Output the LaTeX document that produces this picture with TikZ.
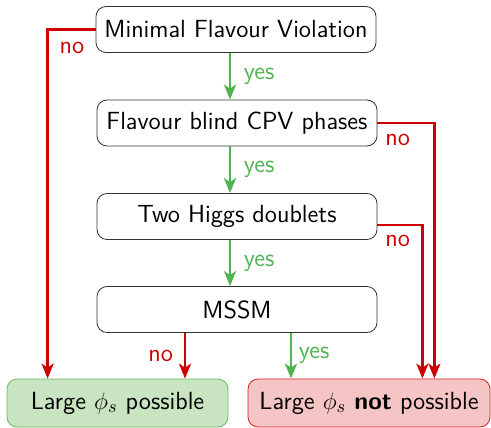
\documentclass[tikz,border=0pt]{standalone}
\usetikzlibrary{arrows.meta}

\definecolor{yesgreen}{RGB}{80,178,80}
\definecolor{nored}{RGB}{204,0,0}
\definecolor{goodfill}{RGB}{200,228,192}
\definecolor{goodline}{RGB}{110,185,100}
\definecolor{badfill}{RGB}{245,196,196}
\definecolor{badline}{RGB}{220,30,30}

\begin{document}
\begin{tikzpicture}[x=0.5pt,y=-0.5pt,
    box/.style={draw=black!80, rounded corners=5pt, minimum width=140pt,
        minimum height=23pt, inner sep=0pt,
        font=\sffamily\fontsize{12.4}{14}\selectfont},
    result/.style={box, minimum height=24pt},
    yes/.style={yesgreen, line width=1.3pt, -{Stealth[length=7.5pt,width=6pt,inset=2pt]}},
    no/.style={nored, line width=1.3pt, -{Stealth[length=7.5pt,width=6pt,inset=2pt]}},
    yeslabel/.style={text=yesgreen, font=\sffamily\fontsize{12.4}{14}\selectfont},
    nolabel/.style={text=nored, font=\sffamily\fontsize{12.4}{14}\selectfont}]

    \useasboundingbox (0,0) rectangle (491,427);

    % questions
    \node[box] (mfv) at (236,29.5) {Minimal Flavour Violation};
    \node[box] (blind) at (237,123) {Flavour blind CPV phases};
    \node[box] (higgs) at (237,216.5) {Two Higgs doublets};
    \node[box] (mssm) at (237,309.5) {MSSM};

    % answers
    \node[result, minimum width=110.5pt, fill=goodfill, draw=goodline] (good) at (117.5,403)
        {Large $\phi_s$ possible};
    \node[result, minimum width=121pt, fill=badfill, draw=badline] (bad) at (369,403)
        {Large $\phi_s$ \textbf{not} possible};

    % yes branches
    \draw[yes] ([xshift=-3pt]mfv.south) -- node[yeslabel, right, xshift=3pt] {yes} ([xshift=-3pt]mfv.south |- blind.north);
    \draw[yes] ([xshift=-3.5pt]blind.south) -- node[yeslabel, right, xshift=3pt] {yes} ([xshift=-3.5pt]higgs.north);
    \draw[yes] ([xshift=-3.5pt]higgs.south) -- node[yeslabel, right, xshift=3pt] {yes} ([xshift=-3.5pt]mssm.north);
    \draw[yes] ([xshift=27pt]mssm.south) -- node[yeslabel, right] {yes} ([xshift=27pt]mssm.south |- bad.north);

    % no branches
    \draw[no] (mfv.west) -| node[nolabel, pos=0.5, below right, xshift=2pt, yshift=-2.5pt] {no} ([xshift=-24pt]mfv.south west |- good.north);
    \draw[no] (blind.east) -| node[nolabel, pos=0, below right, yshift=-1.5pt] {no} ([xshift=-28pt]bad.north east);
    \draw[no] ([yshift=-4.25pt]higgs.east) -| node[nolabel, pos=0, below right, yshift=-1pt] {no} ([xshift=-34pt]bad.north east);
    \draw[no] ([xshift=-26pt]mssm.south) -- node[nolabel, left, xshift=-2pt] {no} ([xshift=-26pt]mssm.south |- good.north);

\end{tikzpicture}
\end{document}
